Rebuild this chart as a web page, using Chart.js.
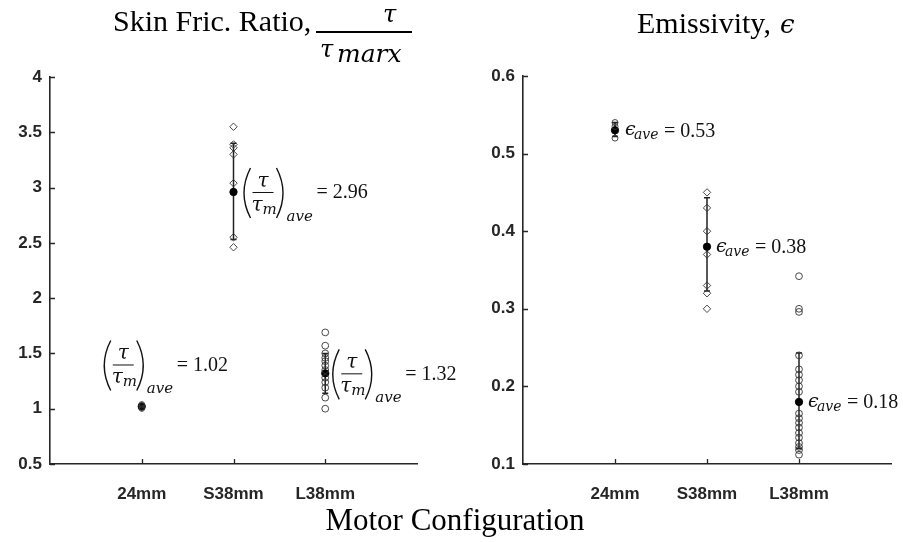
<!DOCTYPE html>
<html>
<head>
<meta charset="utf-8">
<script src="https://cdn.jsdelivr.net/npm/chart.js@4.4.1/dist/chart.umd.min.js"></script>
<style>
html,body{margin:0;padding:0;background:#fff;}
#wrap{position:relative;width:903px;height:542px;}
#wrap canvas{position:absolute;left:0;top:0;}
</style>
</head>
<body>
<div id="wrap"><canvas id="ratio" width="903" height="542"></canvas><canvas id="emis" width="903" height="542"></canvas></div>
<script>
// categories and tick labels
const categories=['24mm','S38mm','L38mm'];
const ratioTicks=[0.5,1,1.5,2,2.5,3,3.5,4];
const emisTicks=[0.1,0.2,0.3,0.4,0.5,0.6];

// skin friction ratio tau/tau_marx
const ratio24=[1.00,1.01,1.03,1.04];
const ratioS38=[3.55,3.39,3.36,3.30,3.04,2.55,2.46];
const ratioL38=[1.69,1.57,1.50,1.46,1.43,1.39,1.35,1.28,1.24,1.19,1.10,1.00];
const ratioMean=[1.02,2.96,1.32];
const ratioLow=[1.00,2.53,1.14];
const ratioHigh=[1.04,3.40,1.50];

// emissivity
const emis24=[0.540,0.535,0.520];
const emisS38=[0.45,0.43,0.40,0.37,0.33,0.32,0.30];
const emisL38=[0.342,0.300,0.296,0.240,0.222,0.215,0.208,0.200,0.193,0.165,0.159,0.153,0.147,0.140,0.134,0.127,0.122,0.118,0.112];
const emisMean=[0.53,0.38,0.18];
const emisLow=[0.522,0.323,0.120];
const emisHigh=[0.540,0.443,0.243];

const AX='#262626';
const pts=(i,arr)=>arr.map(v=>({x:i+1,y:v}));

function drawRatioLabel(ctx,x0,y,txt){
  ctx.save();
  ctx.strokeStyle='#111';ctx.fillStyle='#111';ctx.lineWidth=1.4;
  ctx.beginPath();ctx.moveTo(x0+8,y-24);ctx.quadraticCurveTo(x0-5,y+1,x0+8,y+26);ctx.stroke();
  ctx.beginPath();ctx.moveTo(x0+34,y-24);ctx.quadraticCurveTo(x0+47,y+1,x0+34,y+26);ctx.stroke();
  ctx.lineWidth=1;ctx.beginPath();ctx.moveTo(x0+10,y+0.5);ctx.lineTo(x0+31,y+0.5);ctx.stroke();
  ctx.font='italic 20px "DejaVu Serif"';ctx.textBaseline='alphabetic';
  ctx.textAlign='center';ctx.fillText('τ',x0+20.5,y-5);
  ctx.textAlign='left';ctx.fillText('τ',x0+9,y+19);
  ctx.font='italic 15px "DejaVu Serif"';
  ctx.fillText('m',x0+20,y+22);
  ctx.fillText('ave',x0+44,y+29);
  ctx.font='20px "Liberation Serif"';ctx.textBaseline='middle';
  ctx.fillText(txt,x0+74,y+1);
  ctx.restore();
}

function drawEpsLabel(ctx,x0,y,txt){
  ctx.save();
  ctx.fillStyle='#111';ctx.textAlign='left';ctx.textBaseline='alphabetic';
  ctx.font='italic 19px "DejaVu Serif"';ctx.fillText('ϵ',x0,y+5);
  ctx.font='italic 14px "DejaVu Serif"';ctx.fillText('ave',x0+9,y+9);
  ctx.font='20px "Liberation Serif"';ctx.textBaseline='middle';
  ctx.fillText(txt,x0+39,y+1);
  ctx.restore();
}

const decor={
  id:'decor',
  beforeDatasetsDraw(chart,args,o){
    const {ctx,scales:{x,y}}=chart;
    ctx.save();ctx.strokeStyle='#222';ctx.lineWidth=1.5;
    o.low.forEach((lo,i)=>{
      const px=x.getPixelForValue(i+1),y1=y.getPixelForValue(lo),y2=y.getPixelForValue(o.high[i]);
      ctx.beginPath();ctx.moveTo(px,y1);ctx.lineTo(px,y2);
      ctx.moveTo(px-3,y1);ctx.lineTo(px+3,y1);ctx.moveTo(px-3,y2);ctx.lineTo(px+3,y2);ctx.stroke();
    });
    ctx.restore();
  },
  afterDraw(chart,args,o){
    const {ctx,chartArea:a,scales:{x,y}}=chart;
    ctx.save();ctx.strokeStyle=AX;ctx.lineWidth=1.3;ctx.beginPath();
    x.ticks.forEach(t=>{const px=Math.round(x.getPixelForValue(t.value))+0.5;ctx.moveTo(px,a.bottom);ctx.lineTo(px,a.bottom-5);});
    y.ticks.forEach(t=>{const py=Math.round(y.getPixelForValue(t.value))+0.5;ctx.moveTo(a.left,py);ctx.lineTo(a.left+5,py);});
    ctx.stroke();ctx.restore();
    o.labels.forEach(l=>{
      const px=x.getPixelForValue(l.i+1)+l.dx,py=y.getPixelForValue(l.at);
      o.draw(ctx,px,py,'= '+o.mean[l.i].toFixed(2));
    });
    o.title(ctx);
  }
};

function makeChart(id,cfg){
  const font={family:'"Liberation Sans", Arial, sans-serif',weight:'bold',size:17};
  const mk=(c,pStyle,r,fill)=>({data:c,pointStyle:pStyle,pointRadius:r,pointBorderWidth:0.9,
    pointBorderColor:fill||'#333',pointBackgroundColor:fill||'rgba(0,0,0,0)',showLine:false});
  return new Chart(document.getElementById(id),{
    type:'scatter',
    data:{datasets:[
      mk(pts(0,cfg.s24),'circle',cfg.r24),
      mk(pts(1,cfg.sS38),'rectRot',3.7),
      mk(pts(2,cfg.sL38),'circle',3.4),
      mk(cfg.mean.map((v,i)=>({x:i+1,y:v})),'circle',3.7,'#000')
    ]},
    options:{
      responsive:false,animation:false,devicePixelRatio:1,
      layout:{padding:cfg.pad},
      plugins:{legend:{display:false},tooltip:{enabled:false},
        decor:{low:cfg.low,high:cfg.high,mean:cfg.mean,labels:cfg.labels,draw:cfg.draw,title:cfg.title}},
      scales:{
        x:{type:'linear',min:0,max:4,
          afterBuildTicks:s=>{s.ticks=categories.map((c,i)=>({value:i+1}));},
          afterFit:s=>{s.height=40;},
          ticks:{callback:v=>categories[v-1],font,color:AX,padding:20,maxRotation:0,autoSkip:false},
          grid:{display:false,drawTicks:false},border:{color:AX,width:1.6}},
        y:{min:cfg.yTicks[0],max:cfg.yTicks[cfg.yTicks.length-1],
          afterBuildTicks:s=>{s.ticks=cfg.yTicks.map(v=>({value:v}));},
          afterFit:s=>{s.width=cfg.yw;},
          ticks:{callback:v=>String(v),font,color:AX,padding:8},
          grid:{display:false,drawTicks:false},border:{color:AX,width:1.6}}
      }
    },
    plugins:[decor]
  });
}

makeChart('ratio',{
  s24:ratio24,sS38:ratioS38,sL38:ratioL38,r24:2.7,mean:ratioMean,low:ratioLow,high:ratioHigh,
  yTicks:ratioTicks,yw:50,pad:{left:0,right:486,top:77,bottom:38},
  labels:[{i:0,dx:-39,at:1.40},{i:1,dx:9,at:ratioMean[1]},{i:2,dx:6,at:ratioMean[2]}],
  draw:drawRatioLabel,
  title(ctx){
    ctx.save();ctx.fillStyle='#000';ctx.textBaseline='alphabetic';ctx.textAlign='left';
    ctx.font='30px "Liberation Serif"';ctx.fillText('Skin Fric. Ratio,',113,31);
    ctx.fillRect(316,31,96,2);
    ctx.font='italic 24px "DejaVu Serif"';ctx.fillText('τ',383,22);
    ctx.fillText('τ',320,57);
    ctx.font='italic 25px "DejaVu Serif"';ctx.fillText('marx',337,62);
    ctx.font='31px "Liberation Serif"';ctx.textAlign='center';
    ctx.fillText('Motor Configuration',455,530);
    ctx.restore();
  }
});

makeChart('emis',{
  s24:emis24,sS38:emisS38,sL38:emisL38,r24:3,mean:emisMean,low:emisLow,high:emisHigh,
  yTicks:emisTicks,yw:63,pad:{left:460,right:12,top:76,bottom:38},
  labels:[{i:0,dx:10,at:emisMean[0]},{i:1,dx:9,at:emisMean[1]},{i:2,dx:9,at:emisMean[2]}],
  draw:drawEpsLabel,
  title(ctx){
    ctx.save();ctx.fillStyle='#000';ctx.textBaseline='alphabetic';ctx.textAlign='left';
    ctx.font='30px "Liberation Serif"';ctx.fillText('Emissivity,',637,33);
    ctx.font='italic 26px "DejaVu Serif"';ctx.fillText('ϵ',780,33);
    ctx.restore();
  }
});
</script>
</body>
</html>
